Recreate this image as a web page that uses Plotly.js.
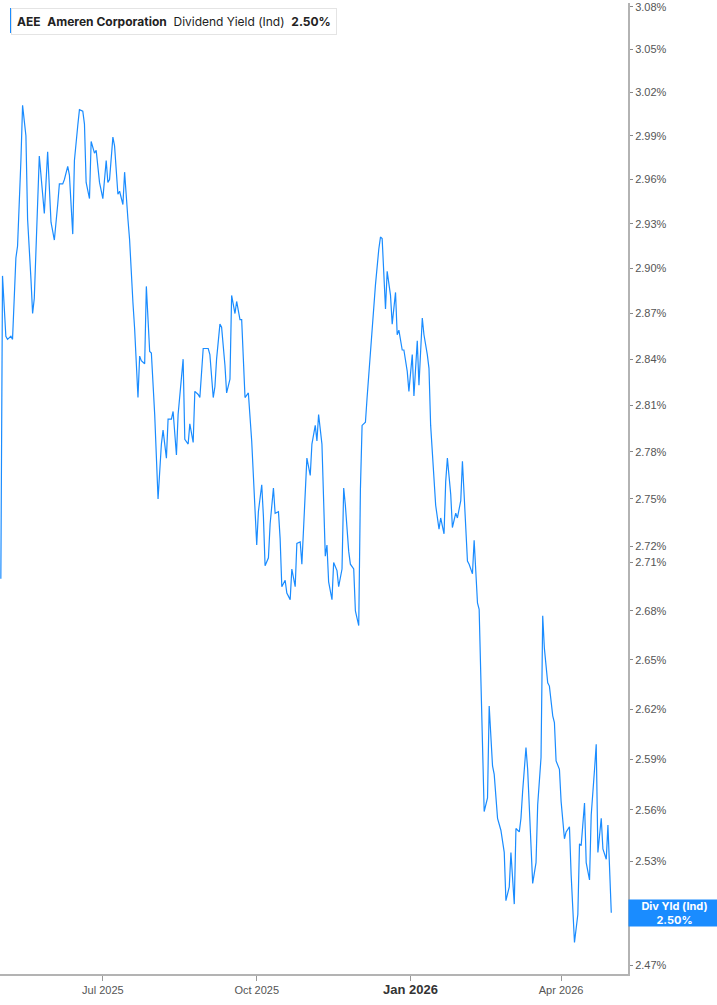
<!DOCTYPE html>
<html>
<head>
<meta charset="utf-8">
<script src="https://cdn.plot.ly/plotly-3.0.1.min.js"></script>
<style>
  html, body { margin: 0; padding: 0; background: #fff; }
  #chart { width: 717px; height: 1005px; }
</style>
</head>
<body>
<div id="chart"></div>
<script>
// AEE dividend yield (indicated)
var fechas = [
  '2025-05-01','2025-05-02','2025-05-04','2025-05-05','2025-05-07','2025-05-08','2025-05-10','2025-05-11',
  '2025-05-13','2025-05-14','2025-05-16','2025-05-17','2025-05-19','2025-05-20','2025-05-21','2025-05-23',
  '2025-05-24','2025-05-26','2025-05-27','2025-05-29','2025-05-30','2025-05-31',
  '2025-06-01','2025-06-02','2025-06-04','2025-06-05','2025-06-07','2025-06-08','2025-06-10','2025-06-11',
  '2025-06-13','2025-06-14','2025-06-16','2025-06-17','2025-06-19','2025-06-20','2025-06-21','2025-06-23',
  '2025-06-24','2025-06-26','2025-06-27','2025-06-29',
  '2025-07-01','2025-07-03','2025-07-04','2025-07-05','2025-07-07','2025-07-08','2025-07-10','2025-07-11',
  '2025-07-13','2025-07-14','2025-07-16','2025-07-17','2025-07-19','2025-07-20','2025-07-22','2025-07-23',
  '2025-07-24','2025-07-26','2025-07-27','2025-07-29','2025-07-30',
  '2025-08-01','2025-08-03','2025-08-05','2025-08-06','2025-08-08','2025-08-09','2025-08-11','2025-08-12',
  '2025-08-14','2025-08-15','2025-08-17','2025-08-18','2025-08-19','2025-08-21','2025-08-22','2025-08-24',
  '2025-08-25','2025-08-27','2025-08-28','2025-08-30','2025-08-31',
  '2025-09-02','2025-09-03','2025-09-05','2025-09-06','2025-09-07','2025-09-09','2025-09-10','2025-09-12',
  '2025-09-13','2025-09-15','2025-09-16','2025-09-18','2025-09-19','2025-09-21','2025-09-22','2025-09-24',
  '2025-09-25','2025-09-26','2025-09-28','2025-09-30',
  '2025-10-01','2025-10-02','2025-10-04','2025-10-05','2025-10-06','2025-10-08','2025-10-09','2025-10-11',
  '2025-10-12','2025-10-14','2025-10-15','2025-10-16','2025-10-18','2025-10-19','2025-10-21','2025-10-22',
  '2025-10-24','2025-10-25','2025-10-27','2025-10-28','2025-10-30','2025-10-31',
  '2025-11-02','2025-11-03','2025-11-05','2025-11-06','2025-11-07','2025-11-09','2025-11-11','2025-11-12',
  '2025-11-13','2025-11-15','2025-11-16','2025-11-18','2025-11-19','2025-11-21','2025-11-22','2025-11-23',
  '2025-11-25','2025-11-26','2025-11-28','2025-11-29',
  '2025-12-01','2025-12-02','2025-12-03','2025-12-05','2025-12-06','2025-12-08','2025-12-09','2025-12-11',
  '2025-12-13','2025-12-14','2025-12-15','2025-12-17','2025-12-18','2025-12-20','2025-12-21','2025-12-23',
  '2025-12-24','2025-12-25','2025-12-27','2025-12-28','2025-12-30','2025-12-31',
  '2026-01-02','2026-01-03','2026-01-05','2026-01-06','2026-01-08','2026-01-09','2026-01-11','2026-01-12',
  '2026-01-13','2026-01-15','2026-01-16','2026-01-18','2026-01-19','2026-01-21','2026-01-22','2026-01-23',
  '2026-01-25','2026-01-26','2026-01-28','2026-01-29','2026-01-31',
  '2026-02-01','2026-02-03','2026-02-04','2026-02-05','2026-02-07','2026-02-08','2026-02-10','2026-02-11',
  '2026-02-13','2026-02-14','2026-02-16','2026-02-17','2026-02-19','2026-02-20','2026-02-22','2026-02-23',
  '2026-02-24','2026-02-26','2026-02-27',
  '2026-03-01','2026-03-02','2026-03-04','2026-03-05','2026-03-07','2026-03-08','2026-03-09','2026-03-11',
  '2026-03-12','2026-03-14','2026-03-15','2026-03-17','2026-03-18','2026-03-20','2026-03-21','2026-03-22',
  '2026-03-24','2026-03-25','2026-03-27','2026-03-28','2026-03-29','2026-03-31',
  '2026-04-01','2026-04-03','2026-04-04','2026-04-06','2026-04-07','2026-04-09','2026-04-11','2026-04-12',
  '2026-04-13','2026-04-15','2026-04-16','2026-04-18','2026-04-19','2026-04-21','2026-04-22','2026-04-23',
  '2026-04-25','2026-04-26','2026-04-28','2026-04-29','2026-05-01'
];

var rendimiento = [
  2.700,2.895,2.855,2.853,2.855,2.853,2.907,2.915,
  2.973,3.011,2.990,2.933,2.893,2.870,2.880,2.945,
  2.976,2.950,2.937,2.979,2.956,2.931,
  2.925,2.919,2.943,2.957,2.957,2.960,2.969,2.963,
  2.923,2.973,2.997,3.008,3.007,2.998,2.958,2.947,
  2.986,2.978,2.980,2.958,
  2.947,2.973,2.958,2.960,2.989,2.983,2.950,2.952,
  2.943,2.965,2.933,2.919,2.877,2.860,2.815,2.842,
  2.839,2.837,2.888,2.845,2.844,
  2.804,2.750,2.785,2.794,2.776,2.801,2.801,2.806,
  2.778,2.804,2.825,2.840,2.788,2.785,2.798,2.786,
  2.819,2.817,2.815,2.847,2.847,
  2.847,2.843,2.815,2.822,2.840,2.863,2.861,2.836,
  2.818,2.827,2.882,2.870,2.878,2.866,2.866,2.815,
  2.817,2.818,2.787,2.746,
  2.721,2.742,2.759,2.739,2.708,2.713,2.734,2.757,
  2.741,2.742,2.725,2.695,2.699,2.691,2.687,2.706,
  2.695,2.722,2.723,2.709,2.755,2.776,
  2.765,2.785,2.797,2.787,2.804,2.785,2.714,2.721,
  2.698,2.687,2.710,2.705,2.695,2.706,2.757,2.746,
  2.717,2.709,2.706,2.680,
  2.671,2.756,2.797,2.799,2.815,2.847,2.858,2.889,
  2.913,2.921,2.920,2.873,2.898,2.882,2.863,2.884,
  2.856,2.859,2.846,2.846,2.832,2.819,
  2.843,2.816,2.852,2.823,2.867,2.856,2.843,2.834,
  2.797,2.766,2.746,2.731,2.738,2.728,2.761,2.776,
  2.753,2.732,2.741,2.738,2.749,
  2.774,2.730,2.711,2.709,2.703,2.724,2.685,2.681,
  2.597,2.559,2.567,2.622,2.586,2.581,2.555,2.552,
  2.548,2.535,2.507,
  2.515,2.535,2.505,2.549,2.547,2.555,2.571,2.597,
  2.584,2.535,2.517,2.529,2.563,2.591,2.677,2.657,
  2.636,2.634,2.616,2.612,2.589,2.584,
  2.565,2.543,2.547,2.550,2.522,2.483,2.499,2.540,
  2.539,2.564,2.529,2.519,2.557,2.584,2.599,2.535,
  2.555,2.537,2.531,2.551,2.500
];

var ticksY = [2.47, 2.53, 2.56, 2.59, 2.62, 2.65, 2.68, 2.71, 2.72, 2.75, 2.78, 2.81,
              2.84, 2.87, 2.90, 2.93, 2.96, 2.99, 3.02, 3.05, 3.08];
var ticksX = ['2025-07-01', '2025-10-01', '2026-01-01', '2026-04-01'];
var etiquetasX = ['Jul 2025', 'Oct 2025', '<span style="font-size:13px;fill:#333"><b>Jan 2026</b></span>', 'Apr 2026'];

var ultimo = rendimiento[rendimiento.length - 1];
var azul = '#1a8cff';

var trace = {
  x: fechas,
  y: rendimiento,
  type: 'scatter',
  mode: 'lines',
  line: { color: azul, width: 1.2 },
  hoverinfo: 'x+y'
};

var layout = {
  width: 717,
  height: 1005,
  margin: { l: 0, r: 89, t: 3, b: 31 },
  paper_bgcolor: '#fff',
  plot_bgcolor: '#fff',
  showlegend: false,
  font: { family: 'Liberation Sans, Arial, sans-serif', size: 11, color: '#555' },
  xaxis: {
    type: 'date',
    range: ['2025-04-30 12:00', '2026-05-11'],
    tickvals: ticksX,
    ticktext: etiquetasX,
    showgrid: false,
    zeroline: false,
    showline: true,
    linecolor: '#b3b3b3',
    linewidth: 2,
    ticks: 'outside',
    ticklen: 5,
    tickwidth: 1,
    tickcolor: '#999',
    tickfont: { family: 'Liberation Sans Narrow, Liberation Sans, Arial, sans-serif', size: 11, color: '#555' }
  },
  yaxis: {
    type: 'log',
    side: 'right',
    range: [Math.log10(2.465), Math.log10(3.0828)],
    tickvals: ticksY,
    ticktext: ticksY.map(function (v) { return v.toFixed(2) + '%'; }),
    ticklabeloverflow: 'allow',
    showgrid: false,
    zeroline: false,
    showline: true,
    linecolor: '#b3b3b3',
    linewidth: 2,
    ticks: 'outside',
    ticklen: 3,
    tickwidth: 1,
    tickcolor: '#888',
    tickfont: { family: 'Liberation Sans, Arial, sans-serif', size: 11, color: '#555' }
  },
  shapes: [{
    type: 'rect',
    xref: 'paper', yref: 'paper',
    x0: 10 / 628, x1: 13 / 628,
    y0: 1 - 30 / 971, y1: 1 - 5 / 971,
    fillcolor: azul,
    line: { width: 0 }
  }],
  annotations: [{
    xref: 'paper', yref: 'paper',
    x: 11 / 628, y: 1 - 5 / 971,
    xanchor: 'left', yanchor: 'top',
    showarrow: false,
    align: 'left',
    text: '<b>AEE</b>&nbsp;&nbsp;<b>Ameren Corporation</b>&nbsp;&nbsp;Dividend Yield (Ind)&nbsp;&nbsp;<b>' + ultimo.toFixed(2) + '%</b>',
    font: { family: 'Inter, Liberation Sans, sans-serif', size: 12, color: '#222' },
    bgcolor: '#fff',
    bordercolor: '#e4e4e4',
    borderwidth: 1,
    borderpad: 5
  }, {
    xref: 'paper', yref: 'y',
    x: 1, y: Math.log10(ultimo),
    xanchor: 'left', yanchor: 'middle',
    showarrow: false,
    width: 89,
    height: 24,
    text: '<b>Div Yld (Ind)</b><br><b>' + ultimo.toFixed(2) + '%</b>',
    font: { family: 'Inter, Liberation Sans, sans-serif', size: 11, color: '#fff' },
    bgcolor: azul,
    borderpad: 1
  }]
};

Plotly.newPlot('chart', [trace], layout, { displayModeBar: false, staticPlot: true });
</script>
</body>
</html>
